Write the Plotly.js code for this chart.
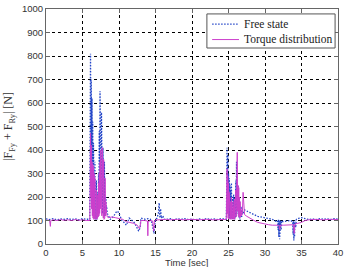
<!DOCTYPE html>
<html>
<head>
<meta charset="utf-8">
<script src="https://cdn.plot.ly/plotly-3.0.1.min.js"></script>
<style>
  html, body { margin: 0; padding: 0; background: #fff; }
  #chart { width: 344px; height: 267px; }
</style>
</head>
<body>
<div id="chart"></div>
<script>
// Lateral force sum |F_Fy + F_Ry| over time for the two control cases

const freeTime = [
  0, 0.5, 1, 1.5, 2, 2.5, 3, 3.5, 4, 4.5, 5, 5.5, 5.9,
  6.00, 6.05, 6.10, 6.15, 6.20, 6.25, 6.30, 6.35, 6.40, 6.45, 6.50, 6.55, 6.60, 6.65, 6.70, 6.75,
  6.80, 6.85, 6.90, 6.95, 7.00, 7.05, 7.10, 7.15, 7.20, 7.25, 7.30, 7.35, 7.40, 7.45, 7.50, 7.55,
  7.60, 7.65, 7.70, 7.75, 7.80, 7.85, 7.90, 7.95, 8.00, 8.05, 8.10, 8.15, 8.20, 8.25, 8.30, 8.40,
  8.6, 8.8, 9.0, 9.3, 9.6, 9.8, 10.0, 10.2, 10.4, 10.6, 10.8, 11.0, 11.2, 11.4, 11.6, 11.8, 12.0,
  12.2, 12.5, 12.7, 12.9, 13.0, 13.3, 13.6, 14.0, 14.3, 14.5, 14.7, 14.8, 14.9, 15.0, 15.2, 15.4,
  15.5, 15.6, 15.7, 15.8, 16.0, 16.2,
  16.5, 17, 17.5, 18, 18.5, 19, 19.5, 20, 20.5, 21, 21.5, 22, 22.5, 23, 23.5, 24, 24.5,
  24.70, 24.75, 24.80, 24.85, 24.90, 24.95, 25.00, 25.05, 25.10, 25.15, 25.20, 25.25, 25.30, 25.35,
  25.40, 25.45, 25.50, 25.55, 25.60, 25.65, 25.70, 25.75, 25.80, 25.85, 25.90, 25.95, 26.00, 26.05,
  26.10, 26.15, 26.20, 26.25, 26.30, 26.35, 26.40, 26.45, 26.50, 26.55, 26.60, 26.65, 26.70, 26.80,
  26.90, 27.00, 27.20,
  27.5, 28, 28.5, 29, 29.5, 30, 30.5, 31, 31.5, 31.7, 31.8, 31.85, 31.9, 31.95, 32.0, 32.05, 32.1,
  32.15, 32.2, 32.3, 32.5, 33, 33.5, 33.8, 33.85, 33.9, 33.95, 34.0, 34.05, 34.1, 34.2, 34.3, 34.7,
  35, 35.5, 36, 36.5, 37, 37.5, 38, 38.5, 39, 39.5, 40
];
const freeForce = [
  107, 104, 108, 103, 107, 105, 108, 104, 107, 103, 108, 105, 106,
  105, 520, 810, 250, 700, 180, 620, 150, 520, 130, 430, 120, 400, 110, 350, 105,
  300, 110, 270, 105, 240, 110, 220, 120, 300, 130, 480, 200, 650, 250, 620, 180,
  560, 150, 420, 130, 410, 120, 380, 115, 350, 120, 300, 130, 200, 140, 160, 130,
  115, 105, 110, 120, 135, 140, 130, 110, 100, 95, 85, 80, 95, 110, 105, 100, 95,
  85, 70, 55, 70, 110, 108, 105, 108, 105, 90, 60, 45, 80, 105, 110, 130,
  175, 110, 150, 110, 120, 105,
  104, 108, 103, 107, 105, 108, 104, 106, 103, 107, 104, 108, 105, 107, 104, 108, 106,
  105, 250, 410, 150, 380, 130, 300, 120, 280, 110, 250, 105, 230, 110,
  260, 105, 220, 110, 200, 105, 210, 110, 190, 105, 200, 110, 270, 120,
  350, 130, 300, 140, 250, 120, 230, 110, 200, 105, 190, 110, 160, 115,
  140, 130, 145,
  140, 130, 125, 118, 115, 110, 108, 105, 97, 100, 60, 105, 30, 100, 20, 95, 40,
  100, 60, 100, 95, 97, 100, 95, 40, 100, 15, 95, 30, 100, 70, 105, 110,
  112, 108, 104, 107, 103, 108, 105, 107, 104, 108, 105
];

const torqueTime = [
  0, 0.4, 0.5, 0.6, 0.65, 1, 1.5, 2, 2.5, 3, 3.5, 4, 4.5, 5, 5.5, 5.9,
  6.00, 6.05, 6.10, 6.15, 6.20, 6.25, 6.30, 6.35, 6.40, 6.45, 6.50, 6.55, 6.60, 6.65, 6.70, 6.75,
  6.80, 6.85, 6.90, 6.95, 7.00, 7.05, 7.10, 7.15, 7.20, 7.25, 7.30, 7.35, 7.40, 7.45, 7.50, 7.55,
  7.60, 7.65, 7.70, 7.75, 7.80, 7.85, 7.90, 7.95, 8.00, 8.05, 8.10, 8.15, 8.20, 8.30, 8.40,
  8.6, 9, 9.5, 10, 10.5, 11, 11.5, 12, 12.5, 12.8, 12.9, 13.0, 13.5, 13.9, 13.95, 14.0, 14.3,
  14.6, 14.75, 14.85, 15, 15.5, 16, 16.5, 17, 18, 19, 20, 21, 22, 23, 24, 24.6,
  24.70, 24.75, 24.80, 24.85, 24.90, 24.95, 25.00, 25.05, 25.10, 25.15, 25.20, 25.25, 25.30, 25.35,
  25.40, 25.45, 25.50, 25.55, 25.60, 25.65, 25.70, 25.75, 25.80, 25.85, 25.90, 25.95, 26.00, 26.05,
  26.10, 26.15, 26.20, 26.25, 26.30, 26.35, 26.40, 26.45, 26.50, 26.55, 26.60, 26.65, 26.70, 26.80,
  26.90, 27.00, 27.10, 27.20,
  27.5, 28, 28.5, 29, 29.5, 30, 30.5, 31, 31.5, 31.9, 32.0, 32.1, 32.5, 33, 33.5, 33.9, 34.0,
  34.1, 34.5, 35, 35.5, 36, 37, 38, 39, 40
];
const torqueForce = [
  100, 102, 98, 75, 100, 103, 100, 104, 101, 103, 100, 104, 101, 103, 100, 102,
  100, 250, 470, 200, 420, 150, 350, 120, 340, 110, 330, 105, 300, 110, 280, 105,
  250, 110, 230, 105, 200, 110, 210, 115, 260, 120, 300, 130, 350, 150, 400, 140,
  380, 120, 410, 115, 380, 110, 360, 105, 350, 110, 280, 120, 180, 130, 115,
  112, 115, 112, 110, 105, 95, 92, 88, 80, 65, 75, 100, 100, 98, 35, 95, 100,
  98, 55, 100, 102, 104, 103, 105, 103, 105, 103, 105, 103, 105, 103, 105, 104,
  105, 200, 320, 130, 290, 110, 260, 105, 220, 110, 200, 105, 180, 110,
  200, 105, 170, 110, 180, 105, 160, 110, 190, 105, 200, 110, 230, 115,
  300, 120, 390, 140, 250, 120, 240, 115, 200, 110, 180, 115, 150, 120,
  130, 220, 130, 125,
  118, 108, 100, 92, 88, 85, 82, 80, 80, 80, 62, 80, 80, 80, 82, 82, 45,
  85, 88, 92, 100, 103, 105, 103, 105, 104
];

const xTicks = [0, 5, 10, 15, 20, 25, 30, 35, 40];
const yTicks = [0, 100, 200, 300, 400, 500, 600, 700, 800, 900, 1000];

const seriesNames = ['Free state', 'Torque distribution'];
const seriesColors = ['#2446c8', '#cc3fcc'];
const freeDash = '1.5px,1.5px';
const xTitle = 'Time [sec]';
const yTitle = '|F<sub>Fy</sub> + F<sub>Ry</sub>| [N]';

const traces = [
  {
    x: freeTime, y: freeForce, type: 'scatter', mode: 'lines',
    name: seriesNames[0],
    line: { color: seriesColors[0], width: 1.3, dash: freeDash }
  },
  {
    x: torqueTime, y: torqueForce, type: 'scatter', mode: 'lines',
    name: seriesNames[1],
    line: { color: seriesColors[1], width: 1 }
  }
];

// Compact boxed legend in the upper right corner (paper coordinates)
const legendFont = { family: 'Liberation Serif, Times New Roman, serif', size: 11.5, color: '#222' };
const legendBox = { x0: 0.551, x1: 0.990, y0: 0.834, y1: 0.979 };
const legendRows = [0.936, 0.870];
const sampleX = [0.569, 0.661];
const labelX = 0.671;

const shapes = [
  { type: 'rect', xref: 'paper', yref: 'paper', ...legendBox,
    line: { color: '#555', width: 1 }, fillcolor: '#fff', layer: 'above' },
  { type: 'line', xref: 'paper', yref: 'paper', x0: sampleX[0], x1: sampleX[1],
    y0: legendRows[0], y1: legendRows[0], line: { color: seriesColors[0], width: 1.3, dash: freeDash }, layer: 'above' },
  { type: 'line', xref: 'paper', yref: 'paper', x0: sampleX[0], x1: sampleX[1],
    y0: legendRows[1], y1: legendRows[1], line: { color: seriesColors[1], width: 1 }, layer: 'above' }
];

const annotations = seriesNames.map((name, i) => ({
  xref: 'paper', yref: 'paper', x: labelX, y: legendRows[i],
  xanchor: 'left', yanchor: 'middle', showarrow: false,
  text: name, font: legendFont
}));

// x-axis title sits at the very bottom edge, below the tick labels
annotations.push({
  xref: 'paper', yref: 'paper', x: 0.48, y: -0.048,
  xanchor: 'center', yanchor: 'top', showarrow: false,
  text: xTitle, font: { family: 'Liberation Sans, Arial, sans-serif', size: 9.5, color: '#333' }
});

const tickFont = { family: 'Liberation Sans, Arial, sans-serif', size: 9.5, color: '#333' };

const layout = {
  width: 344, height: 267,
  margin: { l: 46, r: 6, t: 9, b: 23 },
  paper_bgcolor: '#fff', plot_bgcolor: '#fff',
  showlegend: false,
  shapes: shapes,
  annotations: annotations,
  xaxis: {
    range: [0, 40], tickvals: xTicks, ticktext: xTicks.map(String),
    showgrid: true, gridcolor: '#000', gridwidth: 1, griddash: 'dot',
    showline: true, linecolor: '#666', linewidth: 1, mirror: 'ticks',
    ticks: 'inside', ticklen: 4, tickcolor: '#666',
    zeroline: false, tickfont: tickFont, automargin: false
  },
  yaxis: {
    range: [0, 1000], tickvals: yTicks, ticktext: yTicks.map(String),
    showgrid: true, gridcolor: '#000', gridwidth: 1, griddash: 'dot',
    showline: true, linecolor: '#666', linewidth: 1, mirror: 'ticks',
    ticks: 'inside', ticklen: 4, tickcolor: '#666',
    zeroline: false, tickfont: tickFont, automargin: false,
    title: { text: yTitle, font: { family: 'Liberation Serif, Times New Roman, serif', size: 12, color: '#333' }, standoff: 6 }
  }
};

Plotly.newPlot('chart', traces, layout, { displayModeBar: false, staticPlot: true });
</script>
</body>
</html>
